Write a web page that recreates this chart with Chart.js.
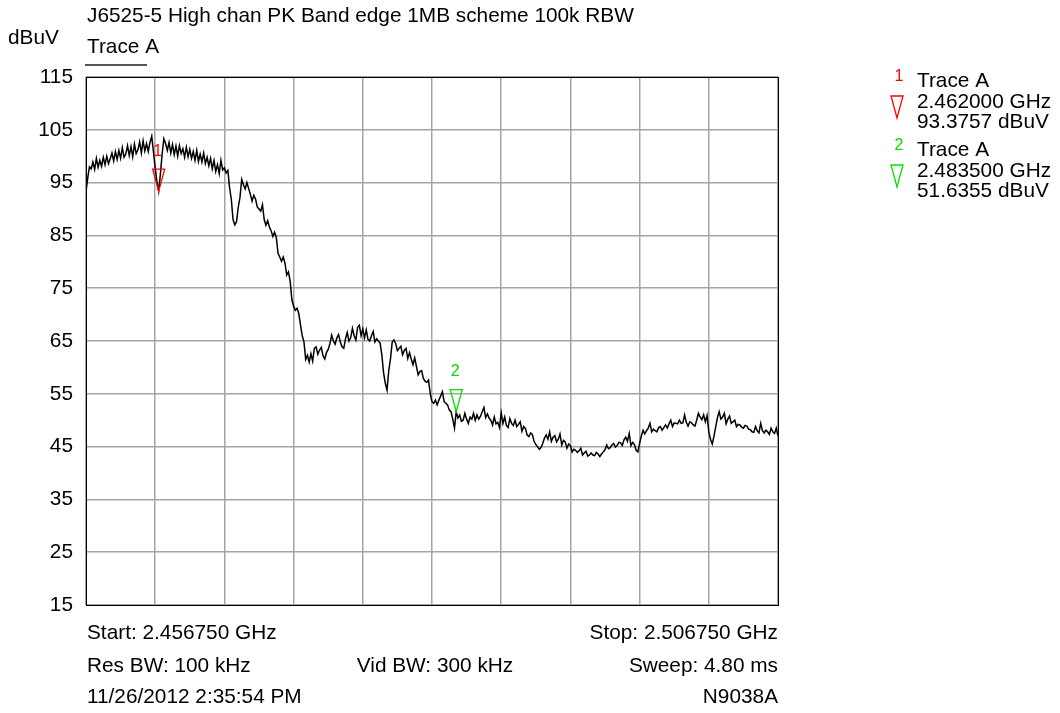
<!DOCTYPE html>
<html>
<head>
<meta charset="utf-8">
<title>J6525-5 High chan PK Band edge</title>
<script src="https://cdn.jsdelivr.net/npm/chart.js@4.4.0/dist/chart.umd.min.js"></script>
<style>
  html, body { margin: 0; padding: 0; background: #fff; }
  #wrap { width: 1060px; height: 713px; }
</style>
</head>
<body>
<div id="wrap"><canvas id="spectrum" width="1060" height="713"></canvas></div>
<script>
(function () {
    "use strict";

    // Sweep settings
    var startGHz = 2.456750;
    var stopGHz = 2.506750;
    var stepMHz = 0.125;                 // one trace point every 125 kHz
    var xGridMHz = [0, 5, 10, 15, 20, 25, 30, 35, 40, 45, 50];
    var yTicks = [15, 25, 35, 45, 55, 65, 75, 85, 95, 105, 115];

    // Trace A, dBuV (401 points)
    var levels = [
        93.3, 95.9, 98.0, 97.6, 98.9, 97.5, 99.6, 97.9, 99.2, 98.1, 99.8, 98.4, 100.0, 98.6, 99.5, 100.6, 99.1, 100.9, 99.4, 101.1,
        99.6, 101.6, 99.8, 100.4, 102.0, 100.1, 101.8, 99.9, 102.3, 100.5, 101.2, 102.7, 100.6, 102.9, 101.0, 102.4, 100.9, 102.6, 103.8, 100.8,
        97.8, 95.2, 93.4, 96.6, 100.4, 103.3, 102.4, 101.1, 102.6, 100.6, 102.2, 100.3, 101.9, 100.0, 102.0, 100.5, 101.4, 99.8, 101.7, 99.9,
        101.3, 99.6, 100.9, 99.2, 101.1, 99.0, 100.4, 98.9, 100.6, 98.6, 99.8, 98.2, 99.6, 97.6, 99.2, 97.1, 98.4, 96.7, 99.2, 97.4,
        97.8, 96.8, 97.3, 94.0, 91.8, 88.0, 87.0, 87.6, 90.3, 92.2, 95.6, 94.6, 93.8, 95.0, 93.9, 92.8, 91.5, 92.6, 91.9, 90.4,
        90.0, 89.6, 90.8, 88.0, 86.9, 87.8, 86.6, 85.9, 84.8, 85.6, 84.6, 81.6, 80.9, 80.1, 80.9, 79.8, 77.5, 78.1, 76.4, 72.8,
        71.6, 70.8, 71.2, 70.2, 68.0, 66.0, 64.8, 61.5, 62.3, 61.0, 62.6, 61.2, 63.6, 63.9, 62.5, 63.3, 63.8, 62.2, 61.6, 62.8,
        63.4, 64.5, 66.1, 65.0, 64.4, 65.6, 66.2, 64.8, 63.9, 63.6, 65.4, 66.6, 65.0, 65.6, 67.4, 66.0, 65.2, 67.6, 68.0, 66.0,
        67.3, 65.6, 67.1, 65.3, 65.0, 66.0, 66.8, 64.8, 65.4, 65.0, 64.6, 62.4, 59.0, 57.0, 55.7, 59.4, 61.6, 64.8, 65.2, 64.5,
        63.2, 63.6, 64.0, 62.4, 63.2, 63.6, 61.7, 62.8, 61.6, 60.5, 61.8, 60.2, 58.6, 59.2, 59.4, 57.9, 57.4, 57.2, 57.6, 55.0,
        53.5, 53.2, 53.8, 52.9, 53.8, 54.6, 55.4, 53.5, 53.2, 52.9, 51.9, 51.6, 50.2, 48.5, 51.6, 50.4, 51.0, 49.8, 50.0, 51.3,
        50.2, 49.4, 50.6, 50.2, 51.3, 50.0, 51.0, 50.2, 50.7, 51.6, 52.4, 50.5, 51.2, 50.4, 50.0, 49.1, 50.6, 49.3, 49.6, 48.6,
        51.4, 49.4, 50.6, 49.0, 48.6, 50.3, 49.4, 49.0, 50.0, 48.8, 49.2, 49.7, 47.9, 48.8, 48.4, 47.2, 46.9, 47.6, 47.3, 46.0,
        45.4, 45.0, 44.5, 44.8, 45.6, 46.6, 47.2, 46.4, 47.8, 46.0, 46.8, 47.1, 45.9, 46.4, 47.4, 45.3, 46.2, 45.9, 44.7, 45.5,
        45.2, 44.0, 44.5, 44.3, 43.9, 44.2, 44.7, 43.4, 43.8, 44.1, 43.2, 43.4, 43.8, 43.4, 43.3, 43.9, 43.6, 43.1, 43.6, 44.0,
        44.4, 45.3, 44.6, 44.8, 45.3, 45.6, 44.9, 45.2, 45.8, 45.7, 45.2, 46.3, 46.8, 46.0, 47.5, 45.2, 45.8, 45.4, 44.3, 44.0,
        45.6, 47.0, 48.1, 47.4, 48.0, 48.5, 49.4, 47.8, 48.3, 48.0, 47.8, 48.6, 48.8, 48.1, 48.6, 49.1, 48.5, 49.3, 50.0, 48.8,
        49.5, 49.4, 49.3, 50.0, 49.4, 49.5, 51.0, 49.6, 48.9, 49.7, 49.5, 49.1, 48.9, 50.0, 51.3, 50.6, 50.1, 51.0, 49.7, 50.9,
        47.8, 46.4, 45.5, 47.0, 48.8, 50.5, 51.6, 50.2, 50.6, 51.3, 49.3, 50.2, 50.8, 49.4, 49.7, 50.0, 48.8, 49.2, 49.1, 48.7,
        48.5, 49.0, 48.9, 48.3, 48.2, 47.8, 47.7, 48.8, 48.0, 47.6, 49.4, 48.0, 47.6, 48.1, 47.8, 47.3, 48.5, 47.8, 47.5, 48.5, 47.0
    ];

    // Markers
    var markerNames = ["1", "2"];
    var markerGHz = [2.462000, 2.483500];
    var markerLevels = [93.3757, 51.6355];
    var markerColors = ["#ff0000", "#00e000"];

    // Texts
    var titleText = "J6525-5 High chan PK Band edge 1MB scheme 100k RBW";
    var unitText = "dBuV";
    var traceText = "Trace A";
    var resBwText = "Res BW: 100 kHz";
    var vidBwText = "Vid BW: 300 kHz";
    var sweepText = "Sweep: 4.80 ms";
    var dateText = "11/26/2012 2:35:54 PM";
    var modelText = "N9038A";

    var FONT = '"Liberation Sans", Arial, sans-serif';
    var FS = 20.8;

    var points = levels.map(function (v, i) {
        return {x: i * stepMHz, y: v};
    });

    function toMHz(ghz) {
        return (ghz - startGHz) * 1000;
    }

    function label(ctx, str, x, y, size, color, align) {
        ctx.font = size + 'px ' + FONT;
        ctx.fillStyle = color;
        ctx.textAlign = align || 'left';
        ctx.textBaseline = 'middle';
        ctx.fillText(str, x, y);
    }

    function triangle(ctx, x, tipY, color) {
        ctx.beginPath();
        ctx.moveTo(x - 6, tipY - 22);
        ctx.lineTo(x + 6, tipY - 22);
        ctx.lineTo(x, tipY);
        ctx.closePath();
        ctx.strokeStyle = color;
        ctx.lineWidth = 1.3;
        ctx.stroke();
    }

    // Frame, texts and markers
    var analyzerPlugin = {
        id: 'analyzer',
        beforeDatasetsDraw: function (chart) {
            var ctx = chart.ctx, a = chart.chartArea;
            ctx.save();
            ctx.strokeStyle = '#000';
            ctx.lineWidth = 1;
            ctx.strokeRect(Math.round(a.left) + 0.5, Math.round(a.top) + 0.5,
                Math.round(a.right - a.left), Math.round(a.bottom - a.top));
            ctx.restore();
        },
        afterDatasetsDraw: function (chart) {
            var ctx = chart.ctx, a = chart.chartArea;
            var xs = chart.scales.x, ys = chart.scales.y;
            ctx.save();

            // header
            label(ctx, titleText, a.left + 1, 16, FS, '#000');
            label(ctx, unitText, 8, 38, FS, '#000');
            label(ctx, traceText, a.left + 1, 47, FS, '#000');
            ctx.strokeStyle = '#555';
            ctx.lineWidth = 2;
            ctx.beginPath();
            ctx.moveTo(a.left - 1, 65);
            ctx.lineTo(a.left + 61, 65);
            ctx.stroke();

            // footer
            label(ctx, 'Start: ' + startGHz.toFixed(6) + ' GHz', a.left + 1, 633, FS, '#000');
            label(ctx, 'Stop: ' + stopGHz.toFixed(6) + ' GHz', a.right, 633, FS, '#000', 'right');
            label(ctx, resBwText, a.left + 1, 666, FS, '#000');
            label(ctx, vidBwText, (a.left + a.right) / 2 + 3, 666, FS, '#000', 'center');
            label(ctx, sweepText, a.right, 666, FS, '#000', 'right');
            label(ctx, dateText, a.left + 1, 697, FS, '#000');
            label(ctx, modelText, a.right, 697, FS, '#000', 'right');

            // markers on the trace
            markerGHz.forEach(function (f, k) {
                var px = xs.getPixelForValue(toMHz(f));
                var py = ys.getPixelForValue(markerLevels[k]);
                triangle(ctx, px, py, markerColors[k]);
                label(ctx, markerNames[k], px - 1, py - 40, 16, markerColors[k], 'center');
            });

            // marker table on the right
            markerGHz.forEach(function (f, k) {
                var top = 81 + k * 69;
                label(ctx, markerNames[k], 899, top - 4, 16, markerColors[k], 'center');
                triangle(ctx, 897, top + 37, markerColors[k]);
                label(ctx, traceText, 917, top, FS, '#000');
                label(ctx, f.toFixed(6) + ' GHz', 917, top + 21, FS, '#000');
                label(ctx, markerLevels[k].toFixed(4) + ' dBuV', 917, top + 41, FS, '#000');
            });

            ctx.restore();
        }
    };

    var ctx = document.getElementById('spectrum').getContext('2d');
    var chart = new Chart(ctx, {
        type: 'line',
        data: {
            datasets: [{
                label: traceText,
                data: points,
                borderColor: '#000',
                borderWidth: 1.5,
                pointRadius: 0,
                tension: 0,
                fill: false
            }]
        },
        options: {
            responsive: false,
            animation: false,
            events: [],
            layout: {
                padding: {top: 77, right: 282, bottom: 108, left: 0}
            },
            plugins: {
                legend: {display: false},
                tooltip: {enabled: false},
                title: {display: false}
            },
            scales: {
                x: {
                    type: 'linear',
                    min: 0,
                    max: 50,
                    afterBuildTicks: function (axis) {
                        axis.ticks = xGridMHz.map(function (v) { return {value: v}; });
                    },
                    afterFit: function (axis) { axis.height = 0; },
                    ticks: {display: false},
                    grid: {color: '#a4a4a4', lineWidth: 1.5, drawTicks: false},
                    border: {display: false}
                },
                y: {
                    min: 15,
                    max: 115,
                    afterBuildTicks: function (axis) {
                        axis.ticks = yTicks.map(function (v) { return {value: v}; });
                    },
                    afterFit: function (axis) { axis.width = 86; },
                    ticks: {
                        color: '#000',
                        padding: 13,
                        font: {family: FONT, size: FS}
                    },
                    grid: {color: '#a4a4a4', lineWidth: 1.5, drawTicks: false},
                    border: {display: false}
                }
            }
        },
        plugins: [analyzerPlugin]
    });
})();
</script>
</body>
</html>
